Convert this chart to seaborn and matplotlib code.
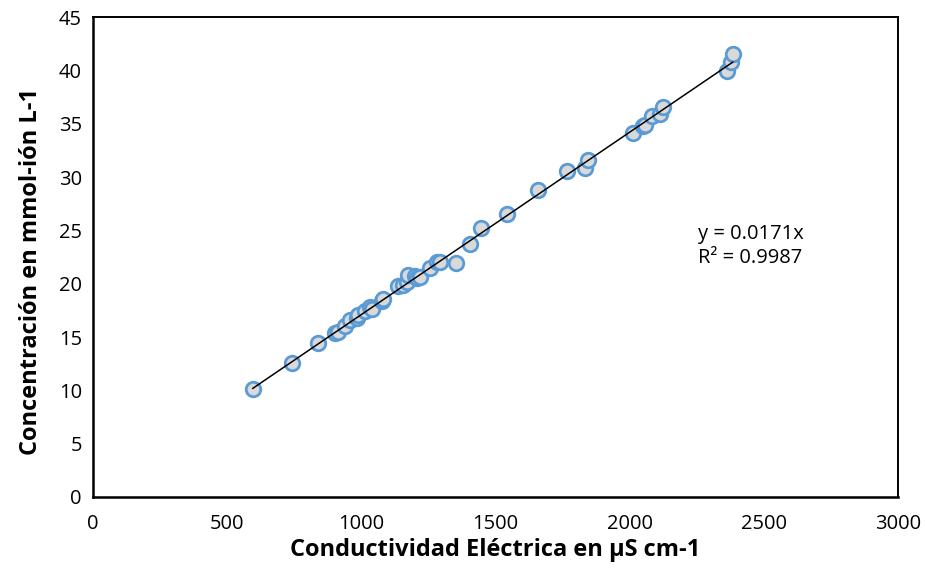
import numpy as np
import pandas as pd
import matplotlib
matplotlib.use("Agg")
import matplotlib.pyplot as plt
import seaborn as sns

# Electrical conductivity (µS/cm) and ionic concentration (mmol-ion/L)
conductividad = [595, 740, 840, 902, 913, 939, 958, 983, 988, 1014, 1032, 1039,
                 1076, 1082, 1138, 1156, 1169, 1175, 1200, 1206, 1219, 1256, 1281,
                 1293, 1353, 1405, 1446, 1542, 1660, 1765, 1834, 1844, 2014, 2051,
                 2057, 2082, 2113, 2124, 2362, 2377, 2385]
concentracion = [10.1, 12.6, 14.4, 15.4, 15.5, 16.0, 16.6, 16.8, 17.1, 17.4, 17.8, 17.6,
                 18.4, 18.6, 19.8, 19.9, 20.2, 20.8, 20.7, 20.5, 20.6, 21.5, 22.0,
                 22.0, 21.9, 23.7, 25.2, 26.5, 28.8, 30.6, 30.8, 31.6, 34.1, 34.8,
                 34.9, 35.7, 35.9, 36.6, 39.9, 40.8, 41.5]

pendiente = 0.0171
r2 = 0.9987

x_ticks = [0, 500, 1000, 1500, 2000, 2500, 3000]
y_ticks = [0, 5, 10, 15, 20, 25, 30, 35, 40, 45]

df = pd.DataFrame({"ce": conductividad, "conc": concentracion})
x_fit = np.array([min(conductividad), max(conductividad)])
trend = pd.DataFrame({"ce": x_fit, "conc": pendiente * x_fit})

sns.set_style("white")
plt.rcParams["font.family"] = ["Open Sans", "DejaVu Sans"]
plt.rcParams["text.color"] = "black"

fig = plt.figure(figsize=(9.25, 5.71), dpi=100)
ax = fig.add_axes([0.1005, 0.1296, 0.8703, 0.8406])

sns.scatterplot(data=df, x="ce", y="conc", ax=ax, s=110, color="#d9d9d9",
                edgecolor="#5b9bd5", linewidth=2.0, zorder=2)
sns.lineplot(data=trend, x="ce", y="conc", ax=ax, color="black", linewidth=1.1,
             zorder=3)

ax.set_xlim(0, 3000)
ax.set_ylim(0, 45)
ax.set_xticks(x_ticks)
ax.set_yticks(y_ticks)
ax.tick_params(direction="inout", length=10, width=1.1, labelsize=14.5,
               colors="black")
ax.tick_params(axis="x", pad=7)
ax.tick_params(axis="y", pad=3)
for side in ["left", "bottom"]:
    ax.spines[side].set_linewidth(1.8)
for side in ["top", "right"]:
    ax.spines[side].set_linewidth(1.4)
for sp in ax.spines.values():
    sp.set_color("black")

ax.set_xlabel("Conductividad Eléctrica en µS cm-1", fontsize=17,
              fontweight="bold", color="black", labelpad=3)
ax.set_ylabel("Concentración en mmol-ión L-1", fontsize=17,
              fontweight="bold", color="black")
ax.yaxis.set_label_coords(-0.062, 0.47)

ax.text(2255, 23.5, f"y = {pendiente}x\nR² = {r2}", fontsize=14.5,
        linespacing=1.25, va="center", ha="left", color="black")

fig.savefig("out.png", dpi=100)
